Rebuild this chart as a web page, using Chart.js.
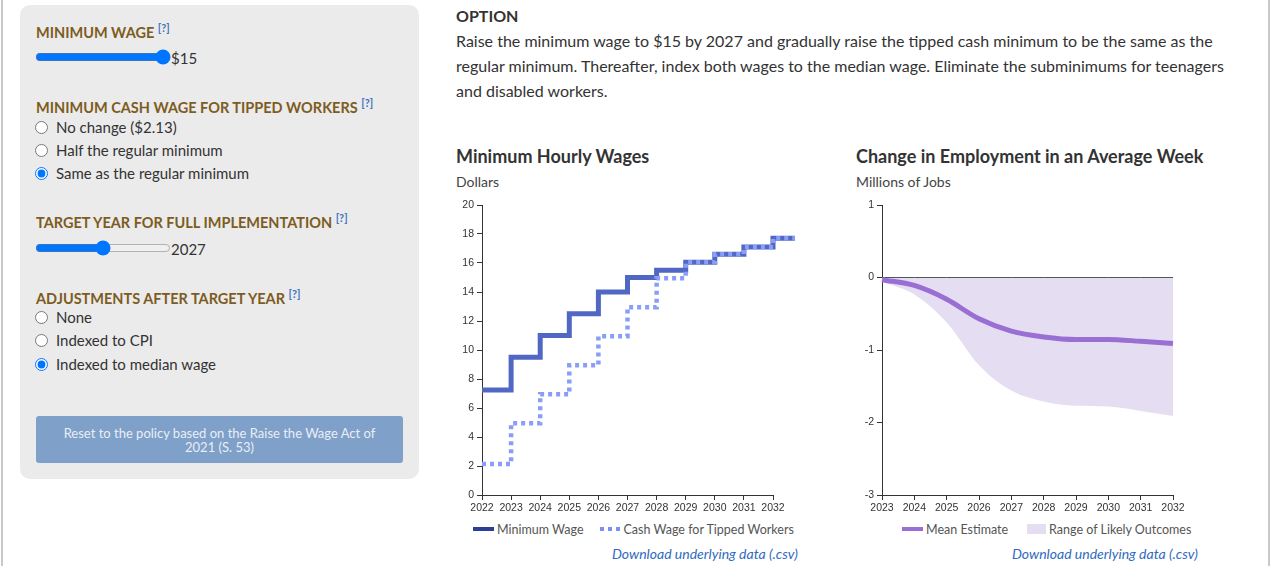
<!DOCTYPE html>
<html lang="en">
<head>
<meta charset="utf-8">
<title>Minimum Wage</title>
<script src="https://cdn.jsdelivr.net/npm/chart.js@4.4.1/dist/chart.umd.min.js"></script>
<style>
    body { margin: 0; width: 1273px; height: 566px; background: #fff; font-family: Lato, "Noto Sans", sans-serif; color: #333; position: relative; overflow: hidden; }
    .borda { position: absolute; top: 0; width: 2px; height: 566px; background: #c9c9c9; }
    .painel { position: absolute; left: 20px; top: 5px; width: 399px; height: 474px; background: #ebebeb; border-radius: 10px; }
    .titulo-campo { position: absolute; left: 16px; margin: 0; font-size: 14.5px; font-weight: bold; color: #7d5c1f; white-space: nowrap; }
    .titulo-campo sup { color: #3f74c0; font-size: 11px; font-weight: bold; }
    .opcao { position: absolute; left: 15px; font-size: 15px; color: #333; display: flex; align-items: center; white-space: nowrap; }
    .opcao input { margin: 0 8px 0 0; width: 13px; height: 13px; }
    .slider { position: absolute; left: 15px; display: flex; align-items: center; font-size: 15px; }
    .slider input { width: 136px; margin: 0; }
    .botao { position: absolute; left: 16px; top: 411px; width: 367px; height: 47px; background: #7fa0c8; border-radius: 3px; color: #e9eef6; font-size: 13px; text-align: center; line-height: 14px; display: flex; align-items: center; justify-content: center; }
    .texto { position: absolute; left: 456px; width: 800px; }
    .opcao-titulo { top: 6px; font-size: 16px; font-weight: bold; }
    .opcao-desc { top: 28px; font-size: 16px; line-height: 25px; width: 790px; }
    .grafico-titulo { position: absolute; top: 145px; font-size: 18px; font-weight: bold; color: #333; white-space: nowrap; }
    .grafico-unidade { position: absolute; top: 173px; font-size: 14px; color: #444; }
    .caixa-grafico { position: absolute; top: 195px; width: 360px; height: 322px; }
    .legenda { position: absolute; top: 520px; height: 18px; display: flex; align-items: center; font-size: 12.5px; color: #555; white-space: nowrap; }
    .legenda .item { display: flex; align-items: center; margin-right: 16px; }
    .legenda .amostra { width: 21px; height: 4px; margin-right: 3px; }
    .link-csv { position: absolute; top: 545px; font-size: 14px; font-style: italic; color: #2f6bc0; white-space: nowrap; }
</style>
</head>
<body>
<div class="borda" style="left:1px"></div>
<div class="borda" style="left:1268px"></div>

<div class="painel">
    <h4 class="titulo-campo" style="top:16px">MINIMUM WAGE <sup>[?]</sup></h4>
    <div class="slider" style="top:41px"><input type="range" min="7" max="15" value="15"><span style="margin-top:3px">$15</span></div>

    <h4 class="titulo-campo" style="top:91px">MINIMUM CASH WAGE FOR TIPPED WORKERS <sup>[?]</sup></h4>
    <label class="opcao" style="top:113px"><input type="radio" name="gorjeta">No change ($2.13)</label>
    <label class="opcao" style="top:136px"><input type="radio" name="gorjeta">Half the regular minimum</label>
    <label class="opcao" style="top:159px"><input type="radio" name="gorjeta" checked>Same as the regular minimum</label>

    <h4 class="titulo-campo" style="top:206px">TARGET YEAR FOR FULL IMPLEMENTATION <sup>[?]</sup></h4>
    <div class="slider" style="top:232px"><input type="range" min="2022" max="2032" value="2027"><span style="margin-top:3px">2027</span></div>

    <h4 class="titulo-campo" style="top:282px">ADJUSTMENTS AFTER TARGET YEAR <sup>[?]</sup></h4>
    <label class="opcao" style="top:303px"><input type="radio" name="ajuste">None</label>
    <label class="opcao" style="top:326px"><input type="radio" name="ajuste">Indexed to CPI</label>
    <label class="opcao" style="top:350px"><input type="radio" name="ajuste" checked>Indexed to median wage</label>

    <div class="botao">Reset to the policy based on the Raise the Wage Act of<br>2021 (S. 53)</div>
</div>

<div class="texto opcao-titulo">OPTION</div>
<div class="texto opcao-desc">Raise the minimum wage to $15 by 2027 and gradually raise the tipped cash minimum to be the same as the regular minimum. Thereafter, index both wages to the median wage. Eliminate the subminimums for teenagers and disabled workers.</div>

<div class="grafico-titulo" style="left:456px">Minimum Hourly Wages</div>
<div class="grafico-unidade" style="left:456px">Dollars</div>
<div class="caixa-grafico" style="left:450px"><canvas id="graficoSalario"></canvas></div>
<div class="legenda" style="left:473px">
    <div class="item"><span class="amostra" style="background:#2c3f96"></span>Minimum Wage</div>
    <div class="item"><span class="amostra" style="background:repeating-linear-gradient(90deg, #7d8ff2 0 4px, transparent 4px 8px)"></span>Cash Wage for Tipped Workers</div>
</div>
<div class="link-csv" style="left:612px">Download underlying data (.csv)</div>

<div class="grafico-titulo" style="left:856px">Change in Employment in an Average Week</div>
<div class="grafico-unidade" style="left:856px">Millions of Jobs</div>
<div class="caixa-grafico" style="left:850px"><canvas id="graficoEmprego"></canvas></div>
<div class="legenda" style="left:902px">
    <div class="item" style="margin-right:19px"><span class="amostra" style="background:#9a6fd4"></span>Mean Estimate</div>
    <div class="item"><span class="amostra" style="height:10px;width:19px;background:#e5ddf2"></span>Range of Likely Outcomes</div>
</div>
<div class="link-csv" style="left:1012px">Download underlying data (.csv)</div>

<script>
// Salários mínimos por hora (dólares)
const anosSalario = [2022, 2023, 2024, 2025, 2026, 2027, 2028, 2029, 2030, 2031, 2032];
const salarioMinimo = [7.25, 9.5, 11.0, 12.5, 14.0, 15.0, 15.5, 16.05, 16.6, 17.1, 17.7];
const salarioGorjeta = [2.13, 4.95, 6.95, 8.95, 10.95, 12.95, 14.95, 16.05, 16.6, 17.1, 17.7];
const fimUltimoDegrau = 2032.75; // o último degrau passa um pouco de 2032
const ticksSalario = [0, 2, 4, 6, 8, 10, 12, 14, 16, 18, 20];

// Variação no emprego (milhões de postos)
const anosEmprego = [2023, 2024, 2025, 2026, 2027, 2028, 2029, 2030, 2031, 2032];
const empregoMedia = [-0.03, -0.11, -0.30, -0.57, -0.74, -0.82, -0.855, -0.855, -0.88, -0.91];
const empregoInferior = [-0.06, -0.235, -0.62, -1.21, -1.56, -1.71, -1.77, -1.78, -1.84, -1.91];
const empregoSuperior = [0, 0, 0, 0, 0, 0, 0, 0, 0, 0];
const ticksEmprego = [-3, -2, -1, 0, 1];

const fonteEixo = { family: '"Liberation Sans", Arial, sans-serif', size: 10.5 };
const corEixo = '#333';

function montarPontos(anos, valores) {
    return anos.map((ano, i) => ({ x: ano, y: valores[i] }));
}

function eixoX(anos) {
    return {
        type: 'linear',
        bounds: 'data',
        // limites definidos aqui (e não em min/max) para o último degrau poder passar do eixo
        afterDataLimits: s => { s.min = anos[0]; s.max = anos[anos.length - 1]; },
        afterBuildTicks: s => { s.ticks = anos.map(a => ({ value: a })); },
        afterFit: s => { s.height = 22; },
        ticks: { color: corEixo, font: fonteEixo, padding: 2, maxRotation: 0, autoSkip: false, callback: v => String(v) },
        grid: { drawOnChartArea: false, drawTicks: true, tickLength: 5, color: corEixo },
        border: { color: corEixo, width: 1 }
    };
}

function eixoY(ticks) {
    return {
        min: ticks[0],
        max: ticks[ticks.length - 1],
        afterBuildTicks: s => { s.ticks = ticks.map(t => ({ value: t })); },
        afterFit: s => { s.width = 32; },
        ticks: { color: corEixo, font: fonteEixo, padding: 3 },
        grid: { drawOnChartArea: false, drawTicks: true, tickLength: 5, color: corEixo },
        border: { color: corEixo, width: 1 }
    };
}

const opcoesBase = (anos, ticks) => ({
    responsive: true,
    maintainAspectRatio: false,
    animation: false,
    layout: { padding: { top: 10, right: 37, left: 0, bottom: 0 } },
    plugins: { legend: { display: false }, tooltip: { enabled: false } },
    scales: { x: eixoX(anos), y: eixoY(ticks) }
});

// 1. Gráfico de salários (linhas em degrau)
const pontosMinimo = montarPontos(anosSalario, salarioMinimo);
pontosMinimo.push({ x: fimUltimoDegrau, y: salarioMinimo[salarioMinimo.length - 1] });
const pontosGorjeta = montarPontos(anosSalario, salarioGorjeta);
pontosGorjeta.push({ x: fimUltimoDegrau, y: salarioGorjeta[salarioGorjeta.length - 1] });

new Chart(document.getElementById('graficoSalario'), {
    type: 'line',
    data: {
        datasets: [
            {
                label: 'Cash Wage for Tipped Workers',
                data: pontosGorjeta,
                stepped: 'before',
                borderColor: '#8a9df7',
                borderWidth: 4.5,
                borderDash: [4, 4],
                pointRadius: 0,
                clip: false,
                order: 0
            },
            {
                label: 'Minimum Wage',
                data: pontosMinimo,
                stepped: 'before',
                borderColor: '#5068c4',
                borderWidth: 5,
                pointRadius: 0,
                clip: false,
                order: 1
            }
        ]
    },
    options: opcoesBase(anosSalario, ticksSalario)
});

// 2. Gráfico de emprego (média + faixa de resultados prováveis)
new Chart(document.getElementById('graficoEmprego'), {
    type: 'line',
    data: {
        datasets: [
            {
                label: 'Mean Estimate',
                data: montarPontos(anosEmprego, empregoMedia),
                borderColor: '#9a6fd4',
                borderWidth: 5,
                cubicInterpolationMode: 'monotone',
                pointRadius: 0,
                fill: false
            },
            {
                label: 'Upper',
                data: montarPontos(anosEmprego, empregoSuperior),
                borderColor: '#555',
                borderWidth: 1,
                pointRadius: 0,
                fill: false
            },
            {
                label: 'Range of Likely Outcomes',
                data: montarPontos(anosEmprego, empregoInferior),
                borderWidth: 0,
                borderColor: 'rgba(0,0,0,0)',
                backgroundColor: '#e5ddf2',
                cubicInterpolationMode: 'monotone',
                pointRadius: 0,
                fill: '-1'
            }
        ]
    },
    options: opcoesBase(anosEmprego, ticksEmprego)
});
</script>
</body>
</html>
